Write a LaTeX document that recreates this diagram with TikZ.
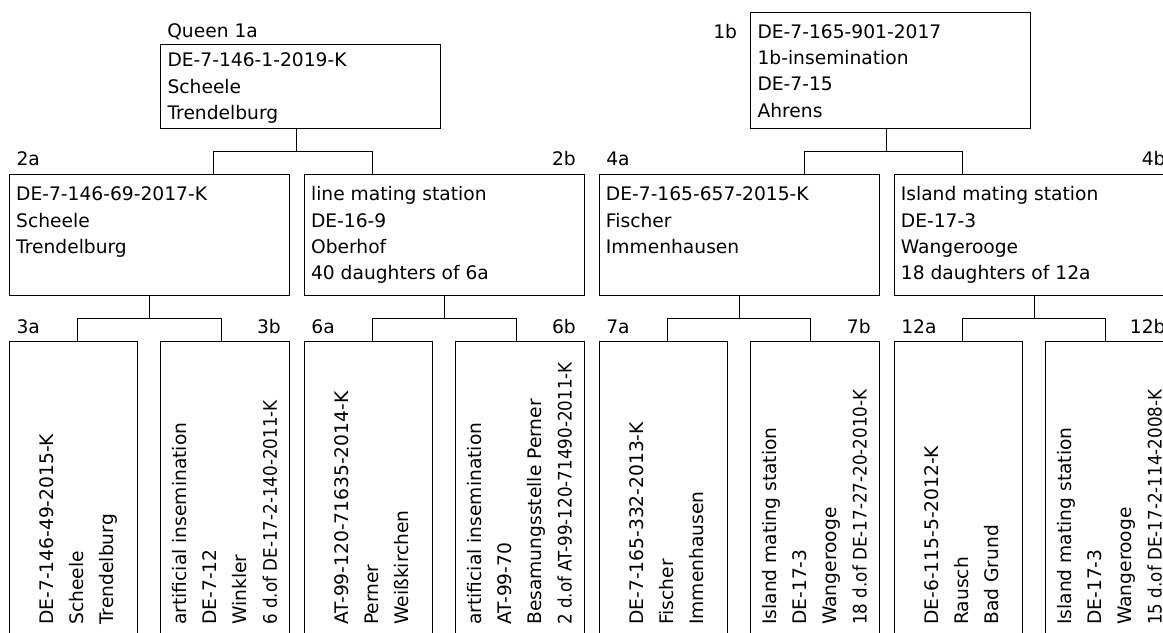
\documentclass[tikz,border=0pt]{standalone}
\usepackage{graphicx}
\usepackage{fontspec}
\setmainfont{DejaVu Sans}
\newcommand\stk[2]{\vtop{\baselineskip=#1\lineskiplimit=-50pt\lineskip=0pt\relax #2}}
\newcommand\squeezed[1]{\hbox{\scalebox{0.897}[1]{#1}}}
\tikzset{
  frame/.style={draw=black, line width=0.75pt, rectangle, inner sep=0pt, outer sep=0pt},
  wide/.style={frame, minimum width=210pt},
  tall/.style={frame, minimum width=96.375pt, minimum height=240pt},
  link/.style={draw=black, line width=0.75pt},
  txt/.style={inner sep=0pt, anchor=base west, font=\fontsize{14}{16}\selectfont},
  vtxt/.style={txt, rotate=90},
  lbla/.style={inner sep=0pt, anchor=base west, font=\fontsize{14}{16}\selectfont},
  lblb/.style={inner sep=0pt, anchor=base east, font=\fontsize{14}{16}\selectfont},
}
\begin{document}
\begin{tikzpicture}[x=0.75pt,y=-0.75pt]
\useasboundingbox (0,0) rectangle (1163,632);
\clip (0,0) rectangle (1163,632);
% ---- top level boxes
\node[wide, minimum height=63.5pt] (n1a) at (300.7,86.65) {};
\node[wide, minimum height=87.5pt] (n1b) at (890.7,70.65) {};
\node[lbla] (l1a) at (167,37.5) {Queen 1a};
\node[lbla] (l1b) at (713,38.5) {1b};
\node[txt] (t1a) at (167.3,66.8) {\stk{19.65pt}{\hbox{DE-7-146-1-2019-K}\hbox{Scheele}\hbox{Trendelburg}}};
\node[txt] (t1b) at (757.3,38.5) {\stk{19.65pt}{\hbox{DE-7-165-901-2017}\hbox{1b-insemination}\hbox{DE-7-15}\hbox{Ahrens}}};
% ---- second level boxes
\node[wide, minimum height=91.05pt] (n2a) at (149.3,235) {};
\node[wide, minimum height=91.05pt] (n2b) at (444.2,235) {};
\node[wide, minimum height=91.05pt] (n4a) at (739.1,235) {};
\node[wide, minimum height=91.05pt] (n4b) at (1034,235) {};
\node[lbla] (l2a) at (16.3,165.8) {2a};
\node[lblb] (l2b) at (576,165.8) {2b};
\node[lbla] (l4a) at (606.1,165.8) {4a};
\node[lblb] (l4b) at (1165.8,165.8) {4b};
\node[txt] (t2a) at (15.9,200.8) {\stk{19.65pt}{\hbox{DE-7-146-69-2017-K}\hbox{Scheele}\hbox{Trendelburg}}};
\node[txt] (t2b) at (310.8,200.8) {\stk{19.65pt}{\hbox{line mating station}\hbox{DE-16-9}\hbox{Oberhof}\hbox{40 daughters of 6a}}};
\node[txt] (t4a) at (605.7,200.8) {\stk{19.65pt}{\hbox{DE-7-165-657-2015-K}\hbox{Fischer}\hbox{Immenhausen}}};
\node[txt] (t4b) at (900.6,200.8) {\stk{19.65pt}{\hbox{Island mating station}\hbox{DE-17-3}\hbox{Wangerooge}\hbox{18 daughters of 12a}}};
% ---- third level boxes
\node[tall] (n3a) at (73.55,501) {};
\node[tall] (n3b) at (225.05,501) {};
\node[tall] (n6a) at (368.45,501) {};
\node[tall] (n6b) at (519.95,501) {};
\node[tall] (n7a) at (663.35,501) {};
\node[tall] (n7b) at (814.85,501) {};
\node[tall] (n12a) at (958.25,501) {};
\node[tall] (n12b) at (1109.75,501) {};
\node[lbla] (l3a) at (16.3,333) {3a};
\node[lblb] (l3b) at (281.1,333) {3b};
\node[lbla] (l6a) at (311.2,333) {6a};
\node[lblb] (l6b) at (576,333) {6b};
\node[lbla] (l7a) at (606.1,333) {7a};
\node[lblb] (l7b) at (870.9,333) {7b};
\node[lbla] (l12a) at (901,333) {12a};
\node[lblb] (l12b) at (1165.8,333) {12b};
\node[vtxt] (t3a) at (53.5,625) {\stk{22.5pt}{\hbox{DE-7-146-49-2015-K}\hbox{Scheele}\hbox{Trendelburg}}};
\node[vtxt] (t3b) at (186.8,625) {\stk{22.5pt}{\hbox{artificial insemination}\hbox{DE-7-12}\hbox{Winkler}\squeezed{6 d.of DE-17-2-140-2011-K}}};
\node[vtxt] (t6a) at (348.4,625) {\stk{22.5pt}{\hbox{AT-99-120-71635-2014-K}\hbox{Perner}\hbox{Weißkirchen}}};
\node[vtxt] (t6b) at (481.7,625) {\stk{22.5pt}{\hbox{artificial insemination}\hbox{AT-99-70}\hbox{Besamungsstelle Perner}\squeezed{2 d.of AT-99-120-71490-2011-K}}};
\node[vtxt] (t7a) at (643.3,625) {\stk{22.5pt}{\hbox{DE-7-165-332-2013-K}\hbox{Fischer}\hbox{Immenhausen}}};
\node[vtxt] (t7b) at (776.6,625) {\stk{22.5pt}{\hbox{Island mating station}\hbox{DE-17-3}\hbox{Wangerooge}\squeezed{18 d.of DE-17-27-20-2010-K}}};
\node[vtxt] (t12a) at (938.2,625) {\stk{22.5pt}{\hbox{DE-6-115-5-2012-K}\hbox{Rausch}\hbox{Bad Grund}}};
\node[vtxt] (t12b) at (1071.5,625) {\stk{22.5pt}{\hbox{Island mating station}\hbox{DE-17-3}\hbox{Wangerooge}\squeezed{15 d.of DE-17-2-114-2008-K}}};
% ---- connectors level 1
\coordinate (j1) at (296.7,151.7);
\coordinate (j2a) at (213.3,151.7);
\coordinate (j2b) at (372.3,151.7);
\coordinate (j3) at (886.7,151.7);
\coordinate (j4a) at (804,151.7);
\coordinate (j4b) at (962.3,151.7);
\draw[link] (n1a.south -| j1) -- (j1);
\draw[link] (n2a.north -| j2a) -- (j2a) -- (j2b) -- (n2b.north -| j2b);
\draw[link] (n1b.south -| j3) -- (j3);
\draw[link] (n4a.north -| j4a) -- (j4a) -- (j4b) -- (n4b.north -| j4b);
% ---- connectors level 2
\coordinate (k3a) at (77.3,318.5);
\coordinate (k3b) at (221.1,318.5);
\coordinate (k6a) at (372.2,318.5);
\coordinate (k6b) at (516,318.5);
\coordinate (k7a) at (667.1,318.5);
\coordinate (k7b) at (810.9,318.5);
\coordinate (k12a) at (962,318.5);
\coordinate (k12b) at (1105.8,318.5);
\draw[link] (n2a.south) -- (n2a.south |- k3a);
\draw[link] (n3a.north -| k3a) -- (k3a) -- (k3b) -- (n3b.north -| k3b);
\draw[link] (n2b.south) -- (n2b.south |- k6a);
\draw[link] (n6a.north -| k6a) -- (k6a) -- (k6b) -- (n6b.north -| k6b);
\draw[link] (n4a.south) -- (n4a.south |- k7a);
\draw[link] (n7a.north -| k7a) -- (k7a) -- (k7b) -- (n7b.north -| k7b);
\draw[link] (n4b.south) -- (n4b.south |- k12a);
\draw[link] (n12a.north -| k12a) -- (k12a) -- (k12b) -- (n12b.north -| k12b);
\end{tikzpicture}
\end{document}
